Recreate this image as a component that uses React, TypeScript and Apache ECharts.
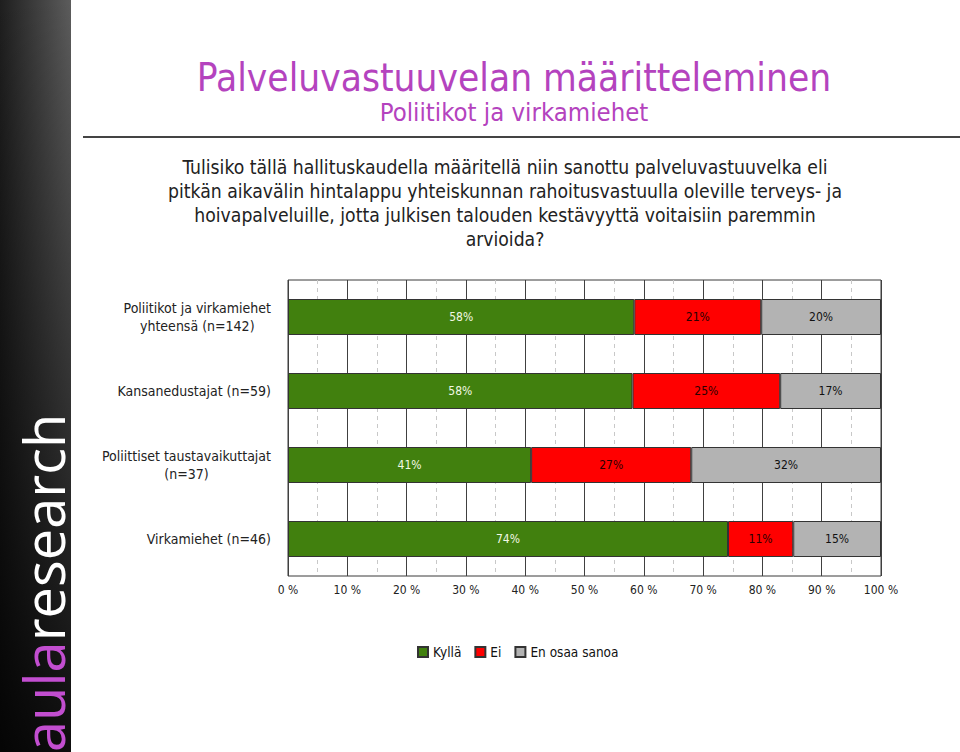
import React, { useEffect, useRef } from "react";
import * as echarts from "echarts";

const categories = [
  "Poliitikot ja virkamiehet\nyhteensä (n=142)",
  "Kansanedustajat (n=59)",
  "Poliittiset taustavaikuttajat\n(n=37)",
  "Virkamiehet (n=46)",
];
const seriesNames = ["Kyllä", "Ei", "En osaa sanoa"];
const kylla = [58.4, 58.1, 41.0, 74.2];
const ei = [21.4, 24.9, 27.0, 11.0];
const eos = [20.2, 17.0, 32.0, 14.8];
const xTicks = [0, 10, 20, 30, 40, 50, 60, 70, 80, 90, 100];

const title = "Palveluvastuuvelan määritteleminen";
const subtitle = "Poliitikot ja virkamiehet";
const question =
  "Tulisiko tällä hallituskaudella määritellä niin sanottu palveluvastuuvelka eli\npitkän aikavälin hintalappu yhteiskunnan rahoitusvastuulla oleville terveys- ja\nhoivapalveluille, jotta julkisen talouden kestävyyttä voitaisiin paremmin\narvioida?";

const FONT = "'DejaVu Sans Condensed', 'DejaVu Sans', sans-serif";
const PURPLE = "#B443BE";
const colors = ["#41800E", "#FF0000", "#B3B3B3"];
const labelColors = ["#F2F8E4", "#2A0000", "#111111"];

export default function App() {
  const ref = useRef<HTMLDivElement>(null);
  useEffect(() => {
    if (!ref.current) return;
    const chart = echarts.init(ref.current, undefined, { renderer: "svg" });
    const values = [kylla, ei, eos];
    chart.setOption({
      animation: false,
      backgroundColor: "#ffffff",
      textStyle: { fontFamily: FONT },
      grid: {
        left: 288,
        right: 79,
        top: 280,
        height: 296,
        show: true,
        borderColor: "#3a3a3a",
        borderWidth: 1,
        backgroundColor: "transparent",
      },
      legend: {
        left: 412,
        top: 640,
        itemWidth: 10,
        itemHeight: 10,
        itemGap: 13,
        icon: "rect",
        textStyle: { fontFamily: FONT, fontSize: 13.5, color: "#111" },
        data: seriesNames,
      },
      xAxis: {
        type: "value",
        min: xTicks[0],
        max: xTicks[xTicks.length - 1],
        interval: 10,
        axisLine: { show: false },
        axisTick: { show: false },
        axisLabel: {
          margin: 8,
          fontSize: 12,
          color: "#222",
          fontFamily: FONT,
          formatter: (v: number) => `${v} %`,
        },
        splitLine: { show: true, lineStyle: { color: "#404040", width: 1 } },
        minorTick: { show: false, splitNumber: 2 },
        minorSplitLine: {
          show: true,
          lineStyle: { color: "#c8c8c8", type: [4, 4], width: 1 },
        },
      },
      yAxis: {
        type: "category",
        inverse: true,
        data: categories,
        axisLine: { show: false },
        axisTick: { show: false },
        splitLine: { show: false },
        axisLabel: {
          margin: 17,
          fontSize: 14,
          color: "#222",
          fontFamily: FONT,
          formatter: (v: string) =>
            v
              .split("\n")
              .map((l) => `{c|${l}}`)
              .join("\n"),
          rich: {
            c: {
              align: "center",
              fontSize: 14,
              lineHeight: 18,
              color: "#222",
              fontFamily: FONT,
            },
          },
        },
      },
      series: seriesNames.map((name, i) => ({
        name,
        type: "bar",
        stack: "total",
        barWidth: 36,
        data: values[i],
        itemStyle: { color: colors[i], borderColor: "#333", borderWidth: 1 },
        label: {
          show: true,
          position: "inside",
          fontSize: 12,
          fontFamily: FONT,
          color: labelColors[i],
          formatter: (p: any) => `${Math.round(p.value)}%`,
        },
      })),
      graphic: [
        {
          type: "rect",
          z: 10,
          shape: { x: 0, y: 0, width: 71, height: 752 },
          style: {
            fill: new echarts.graphic.LinearGradient(0, 0, 1, 0, [
              { offset: 0, color: "#1e1e1e" },
              { offset: 1, color: "#5c5c5c" },
            ]),
          },
        },
        {
          type: "rect",
          z: 11,
          shape: { x: 0, y: 0, width: 71, height: 752 },
          style: {
            fill: new echarts.graphic.LinearGradient(0, 0, 0, 1, [
              { offset: 0, color: "rgba(0,0,0,0)" },
              { offset: 1, color: "rgba(0,0,0,0.85)" },
            ]),
          },
        },
        {
          type: "text",
          z: 12,
          x: 43,
          y: 752,
          rotation: Math.PI / 2,
          style: {
            text: "{a|aula}{b|research}",
            textAlign: "left",
            textVerticalAlign: "middle",
            rich: {
              a: { fontFamily: "'Open Sans', sans-serif", fontSize: 56, fill: "#C24ED0", color: "#C24ED0" },
              b: { fontFamily: "'Open Sans', sans-serif", fontSize: 56, fill: "#ffffff", color: "#ffffff" },
            },
          },
        },
        {
          type: "text",
          x: 514,
          y: 77,
          style: {
            text: title,
            fontFamily: FONT,
            fontSize: 38.5,
            fill: PURPLE,
            textAlign: "center",
            textVerticalAlign: "middle",
          },
        },
        {
          type: "text",
          x: 514,
          y: 112,
          style: {
            text: subtitle,
            fontFamily: FONT,
            fontSize: 25.5,
            fill: PURPLE,
            textAlign: "center",
            textVerticalAlign: "middle",
          },
        },
        {
          type: "line",
          shape: { x1: 83, y1: 137, x2: 960, y2: 137 },
          style: { stroke: "#444", lineWidth: 2 },
        },
        {
          type: "text",
          x: 505,
          y: 155,
          style: {
            text: question,
            fontFamily: FONT,
            fontSize: 19.2,
            lineHeight: 24,
            fill: "#222",
            textAlign: "center",
            textVerticalAlign: "top",
          },
        },
      ],
    });
    return () => chart.dispose();
  }, []);
  return (
    <div
      ref={ref}
      style={{ position: "fixed", left: 0, top: 0, width: 960, height: 752 }}
    />
  );
}
